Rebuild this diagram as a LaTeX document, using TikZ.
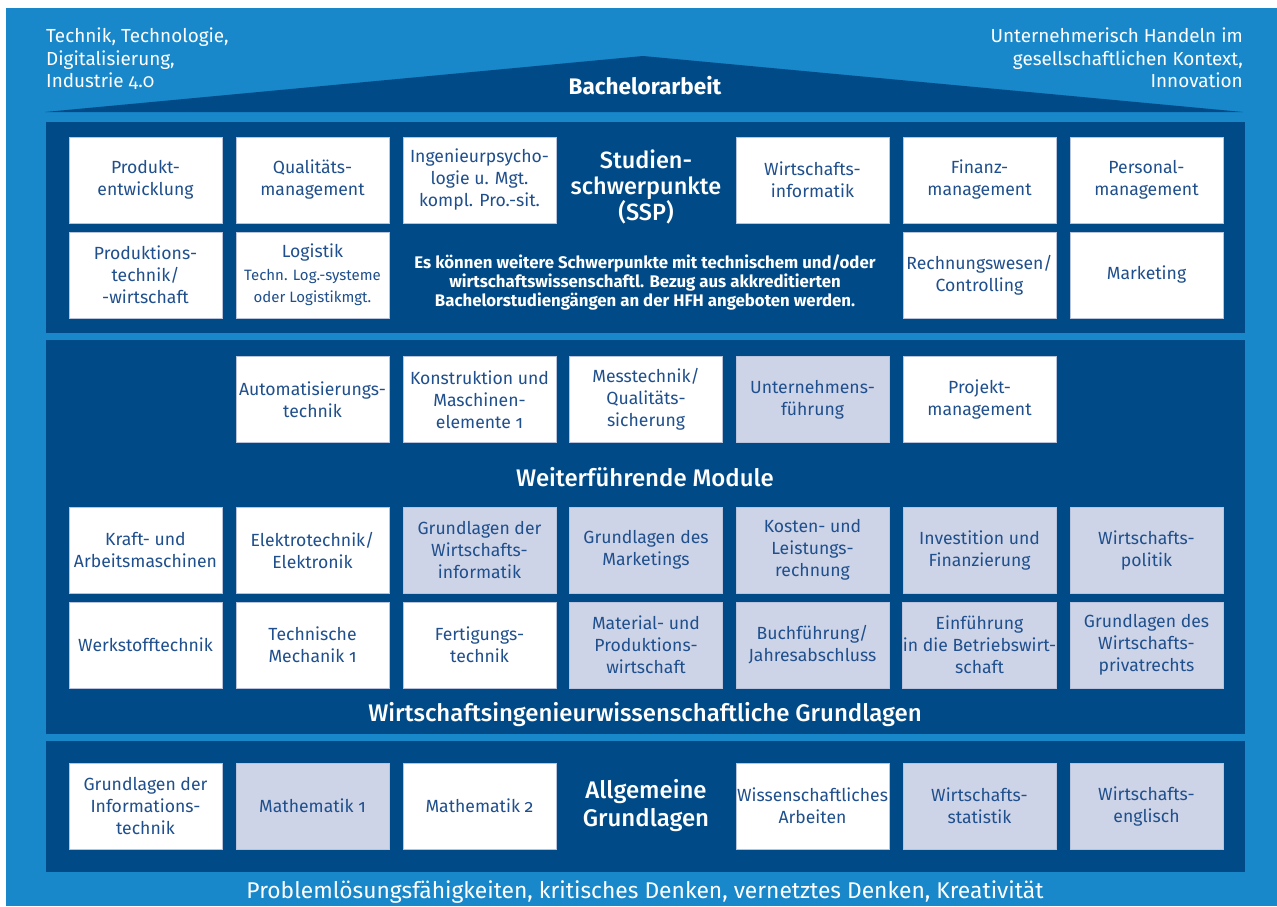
\documentclass[tikz,border=0pt]{standalone}
\usepackage{fontspec}
\setmainfont{Fira Sans}[Numbers=OldStyle]
\newfontfamily\medfont{Fira Sans Medium}[Numbers=OldStyle]
\definecolor{lb}{HTML}{1888CA}
\definecolor{db}{HTML}{004B87}
\definecolor{gb}{HTML}{CED4E7}
\definecolor{tb}{HTML}{1F4F8C}
\definecolor{bd}{HTML}{B9C3DB}
\tikzset{
  mod/.style={draw=bd, line width=0.8pt, fill=white, minimum width=153pt, minimum height=86pt,
    inner sep=0pt, align=center, text=tb, font=\fontsize{17.6}{22}\selectfont},
  gmod/.style={mod, fill=gb},
  head/.style={text=white, align=center, inner sep=0pt, font=\medfont\fontsize{24}{26}\selectfont},
  corner/.style={text=white, inner sep=0pt, font=\fontsize{18.9}{22.7}\selectfont}
}
\begin{document}
\begin{tikzpicture}[x=1pt,y=-1pt]
\useasboundingbox (0,0) rectangle (1277,906);
\fill[white] (0,0) rectangle (1277,906);
\fill[lb] (6,8) rectangle (1277,906);
% roof and panels
\fill[db] (45,112) -- (643,56) -- (1243,112) -- cycle;
\fill[db] (46,122) rectangle (1245,333);
\fill[db] (46,340) rectangle (1245,734);
\fill[db] (46,741) rectangle (1245,872);
% corner texts
\node[corner, anchor=north west, align=left] (tl) at (46,27.5) {Technik, Technologie,\\Digitalisierung,\\Industrie 4.0};
\node[corner, anchor=north east, align=right] (tr) at (1243,27.5) {Unternehmerisch Handeln im\\gesellschaftlichen Kontext,\\Innovation};
\node[head, font=\fontsize{22.5}{25}\selectfont\bfseries] (ba) at (645,86) {Bachelorarbeit};
% SSP
\node[mod] (s11) at (145.5,180) {Produkt-\\entwicklung};
\node[mod] (s12) at (312.5,180) {Qualitäts-\\management};
\node[mod] (s13) at (479.5,180) {Ingenieurpsycho-\\logie u. Mgt.\\kompl. Pro.-sit.};
\node[head, font=\medfont\fontsize{23.5}{26}\selectfont] (ssp) at (646,187) {Studien-\\schwerpunkte\\(SSP)};
\node[mod] (s15) at (812.5,180) {Wirtschafts-\\informatik};
\node[mod] (s16) at (979.5,180) {Finanz-\\management};
\node[mod] (s17) at (1146.5,180) {Personal-\\management};
\node[mod] (s21) at (145.5,275) {Produktions-\\technik/\\-wirtschaft};
\node[mod] (s22) at (312.5,275) {Logistik\\[1pt]{\fontsize{15}{16}\selectfont Techn. Log.-systeme}\\{\fontsize{15}{16}\selectfont oder Logistikmgt.}};
\node[head, font=\fontsize{16.8}{19}\selectfont\bfseries] (es) at (645,283) {Es können weitere Schwerpunkte mit technischem und/oder\\wirtschaftswissenschaftl. Bezug aus akkreditierten\\Bachelorstudiengängen an der HFH angeboten werden.};
\node[mod] (s26) at (979.5,275) {Rechnungswesen/\\Controlling};
\node[mod] (s27) at (1146.5,275) {Marketing};
% Weiterfuehrende Module
\node[mod] (w2) at (312.5,399.5) {Automatisierungs-\\technik};
\node[mod] (w3) at (479.5,399.5) {Konstruktion und\\Maschinen-\\elemente 1};
\node[mod] (w4) at (646,399.5) {Messtechnik/\\Qualitäts-\\sicherung};
\node[gmod] (w5) at (812.5,399.5) {Unternehmens-\\führung};
\node[mod] (w6) at (979.5,399.5) {Projekt-\\management};
\node[head] (wm) at (645,477) {Weiterführende Module};
% Grundlagen
\node[mod] (g11) at (145.5,550) {Kraft- und\\Arbeitsmaschinen};
\node[mod] (g12) at (312.5,550) {Elektrotechnik/\\Elektronik};
\node[gmod] (g13) at (479.5,550) {Grundlagen der\\Wirtschafts-\\informatik};
\node[gmod] (g14) at (646,550) {Grundlagen des\\Marketings};
\node[gmod] (g15) at (812.5,550) {Kosten- und\\Leistungs-\\rechnung};
\node[gmod] (g16) at (979.5,550) {Investition und\\Finanzierung};
\node[gmod] (g17) at (1146.5,550) {Wirtschafts-\\politik};
\node[mod] (g21) at (145.5,645) {Werkstofftechnik};
\node[mod] (g22) at (312.5,645) {Technische\\Mechanik 1};
\node[mod] (g23) at (479.5,645) {Fertigungs-\\technik};
\node[gmod] (g24) at (646,645) {Material- und\\Produktions-\\wirtschaft};
\node[gmod] (g25) at (812.5,645) {Buchführung/\\Jahresabschluss};
\node[gmod] (g26) at (979.5,645) {Einführung\\in die Betriebswirt-\\schaft};
\node[gmod] (g27) at (1146.5,645) {Grundlagen des\\Wirtschafts-\\privatrechts};
\node[head] (wg) at (645,715) {Wirtschaftsingenieurwissenschaftliche Grundlagen};
% Allgemeine Grundlagen
\node[mod] (a1) at (145.5,806) {Grundlagen der\\Informations-\\technik};
\node[gmod] (a2) at (312.5,806) {Mathematik 1};
\node[mod] (a3) at (479.5,806) {Mathematik 2};
\node[head, font=\medfont\fontsize{24}{28}\selectfont] (ag) at (646,806) {Allgemeine\\Grundlagen};
\node[mod] (a5) at (812.5,806) {Wissenschaftliches\\Arbeiten};
\node[gmod] (a6) at (979.5,806) {Wirtschafts-\\statistik};
\node[gmod] (a7) at (1146.5,806) {Wirtschafts-\\englisch};
\node[head, font=\fontsize{22.8}{25}\selectfont] (bt) at (645,892) {Problemlösungsfähigkeiten, kritisches Denken, vernetztes Denken, Kreativität};
\end{tikzpicture}
\end{document}
